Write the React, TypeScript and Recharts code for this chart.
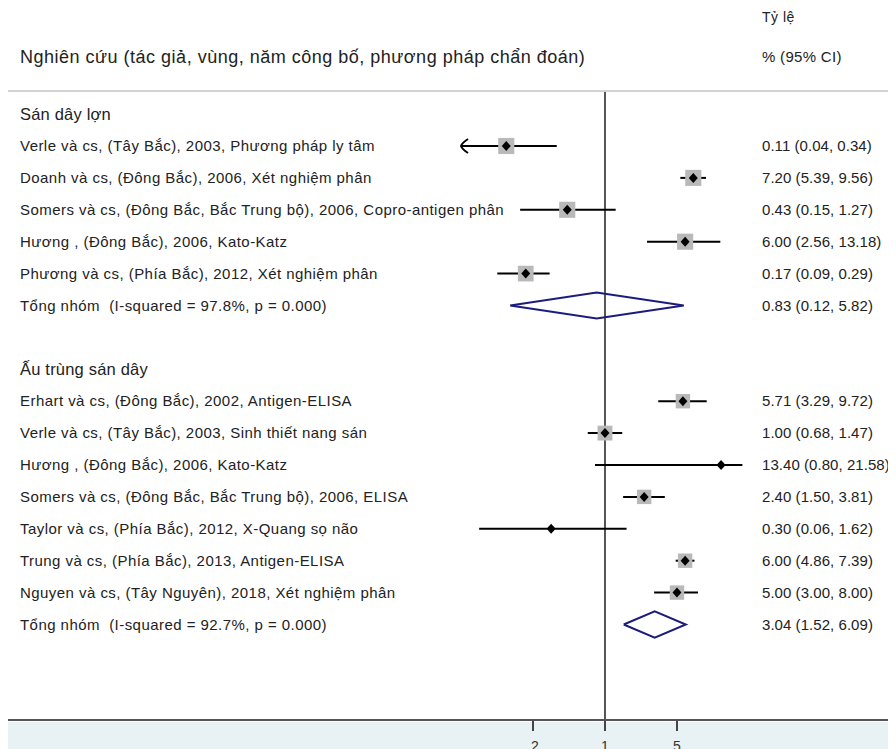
import React from "react";
import { ComposedChart, Scatter, XAxis, YAxis, ErrorBar, ReferenceLine } from "recharts";

// ---- Data ----
const pigGroupTitle = "Sán dây lợn";
const pigStudies = [
  "Verle và cs, (Tây Bắc), 2003, Phương pháp ly tâm",
  "Doanh và cs, (Đông Bắc), 2006, Xét nghiệm phân",
  "Somers và cs, (Đông Bắc, Bắc Trung bộ), 2006, Copro-antigen phân",
  "Hương , (Đông Bắc), 2006, Kato-Katz",
  "Phương và cs, (Phía Bắc), 2012, Xét nghiệm phân",
];
const pigEst = [0.11, 7.2, 0.43, 6.0, 0.17];
const pigLow = [0.04, 5.39, 0.15, 2.56, 0.09];
const pigHigh = [0.34, 9.56, 1.27, 13.18, 0.29];
const pigWeight = [20, 20, 20, 20, 19];
const pigPooledLabel = "Tổng nhóm  (I-squared = 97.8%, p = 0.000)";
const pigPooled = [0.83, 0.12, 5.82];

const cystGroupTitle = "Ấu trùng sán dây";
const cystStudies = [
  "Erhart và cs, (Đông Bắc), 2002, Antigen-ELISA",
  "Verle và cs, (Tây Bắc), 2003, Sinh thiết nang sán",
  "Hương , (Đông Bắc), 2006, Kato-Katz",
  "Somers và cs, (Đông Bắc, Bắc Trung bộ), 2006, ELISA",
  "Taylor và cs, (Phía Bắc), 2012, X-Quang sọ não",
  "Trung và cs, (Phía Bắc), 2013, Antigen-ELISA",
  "Nguyen và cs, (Tây Nguyên), 2018, Xét nghiệm phân",
];
const cystEst = [5.71, 1.0, 13.4, 2.4, 0.3, 6.0, 5.0];
const cystLow = [3.29, 0.68, 0.8, 1.5, 0.06, 4.86, 3.0];
const cystHigh = [9.72, 1.47, 21.58, 3.81, 1.62, 7.39, 8.0];
const cystWeight = [16, 17, 2, 16, 2, 16, 16];
const cystPooledLabel = "Tổng nhóm  (I-squared = 92.7%, p = 0.000)";
const cystPooled = [3.04, 1.52, 6.09];

const xTicks = [0.2, 1, 5];
const headerStudy = "Nghiên cứu (tác giả, vùng, năm công bố, phương pháp chẩn đoán)";
const headerRate1 = "Tỷ lệ";
const headerRate2 = "% (95% CI)";

// ---- Layout constants ----
const W = 888;
const H = 741;
const LEFT_AXIS_W = 420;
const RIGHT_AXIS_W = 136;
const FONT = "'Liberation Sans', Arial, sans-serif";
const DIAMOND_HALF = 0.41; // in row units
const BOX_K = 3.6;

const fmt = (v: number) => v.toFixed(2);
const ciText = (e: number, l: number, h: number) => `${fmt(e)} (${fmt(l)}, ${fmt(h)})`;

// ---- Build rows ----
type Row = { row: number; left: string; right: string; kind: "group" | "study" | "pooled" };
const rows: Row[] = [];
const studyPoints: any[] = [];
const arrowPoints: any[] = [];
const diamonds: any[][] = [];

let r = 0;
function addGroup(title: string, names: string[], est: number[], lo: number[], hi: number[], w: number[], pooledLabel: string, pooled: number[]) {
  rows.push({ row: r, left: title, right: "", kind: "group" });
  r++;
  names.forEach((n, i) => {
    rows.push({ row: r, left: n, right: ciText(est[i], lo[i], hi[i]), kind: "study" });
    studyPoints.push({ x: est[i], y: r, err: [est[i] - lo[i], hi[i] - est[i]], w: w[i] });
    if (lo[i] < 0.05) arrowPoints.push({ x: lo[i], y: r });
    r++;
  });
  rows.push({ row: r, left: pooledLabel, right: ciText(pooled[0], pooled[1], pooled[2]), kind: "pooled" });
  diamonds.push([
    { x: pooled[1], y: r },
    { x: pooled[0], y: r - DIAMOND_HALF },
    { x: pooled[2], y: r },
    { x: pooled[0], y: r + DIAMOND_HALF },
    { x: pooled[1], y: r },
  ]);
  r++;
}
addGroup(pigGroupTitle, pigStudies, pigEst, pigLow, pigHigh, pigWeight, pigPooledLabel, pigPooled);
r++; // blank row
addGroup(cystGroupTitle, cystStudies, cystEst, cystLow, cystHigh, cystWeight, cystPooledLabel, cystPooled);

const rowTicks = rows.map((d) => d.row);
const rowMap: Record<number, Row> = {};
rows.forEach((d) => (rowMap[d.row] = d));
const yDomain = [-0.724, 18.994];
const xDomain = [0.025, 32];

const LeftTick = (props: any) => {
  const { x, y, payload } = props;
  const d = rowMap[payload.value];
  if (!d) return <g />;
  const isGroup = d.kind === "group";
  return (
    <text
      x={x - LEFT_AXIS_W}
      y={y}
      dy="0.35em"
      textAnchor="start"
      fontSize={isGroup ? 16.5 : 15}
      letterSpacing={isGroup ? 0.2 : 0.45}
      fill="#222"
      fontFamily={FONT}
      style={{ whiteSpace: "pre" }}
    >
      {d.left}
    </text>
  );
};

const RightTick = (props: any) => {
  const { x, y, payload } = props;
  const d = rowMap[payload.value];
  if (!d || !d.right) return <g />;
  return (
    <text x={x + 2} y={y} dy="0.35em" textAnchor="start" fontSize={15} letterSpacing={0.05} fill="#222" fontFamily={FONT}>
      {d.right}
    </text>
  );
};

const BoxShape = (props: any) => {
  const { cx, cy, payload } = props;
  const s = BOX_K * Math.sqrt(payload.w);
  return <rect x={cx - s / 2} y={cy - s / 2} width={s} height={s} fill="#b9b9b9" />;
};

const PointShape = (props: any) => {
  const { cx, cy } = props;
  return <path d={`M${cx - 4.5},${cy} L${cx},${cy - 5} L${cx + 4.5},${cy} L${cx},${cy + 5} Z`} fill="#000" />;
};

const ArrowShape = (props: any) => {
  const { cx, cy } = props;
  return (
    <path
      d={`M${cx + 7},${cy - 7} Q${cx + 1},${cy - 3} ${cx},${cy} Q${cx + 1},${cy + 3} ${cx + 7},${cy + 7}`}
      stroke="#000"
      strokeWidth={2}
      fill="none"
    />
  );
};

const NoShape = () => <g />;

export default function App() {
  return (
    <div style={{ position: "relative", width: W, height: H, fontFamily: FONT, overflow: "hidden" }}>
      <div style={{ position: "absolute", left: 0, top: 714, width: W, height: H - 714, background: "#e8f1f4" }} />
      <div style={{ position: "absolute", left: 0, top: 0 }}>
        <ComposedChart width={W} height={H} margin={{ top: 83, right: 0, bottom: 0, left: 12 }}>
          <XAxis
            xAxisId="x"
            dataKey="x"
            type="number"
            scale="log"
            domain={xDomain}
            allowDataOverflow
            ticks={xTicks}
            interval={0}
            height={29}
            axisLine={false}
            tickSize={11}
            tickMargin={10}
            tickLine={{ stroke: "#444", strokeWidth: 2 }}
            tick={{ fontSize: 14, fill: "#333", fontFamily: FONT }}
            tickFormatter={(v: number) => (v < 1 ? String(v).replace(/^0/, "") : String(v))}
          />
          <YAxis
            yAxisId="left"
            dataKey="y"
            type="number"
            orientation="left"
            domain={yDomain}
            allowDataOverflow
            reversed
            ticks={rowTicks}
            interval={0}
            width={LEFT_AXIS_W}
            axisLine={false}
            tickLine={false}
            tickSize={0}
            tickMargin={0}
            tick={<LeftTick />}
          />
          <YAxis
            yAxisId="right"
            dataKey="y"
            type="number"
            orientation="right"
            domain={yDomain}
            allowDataOverflow
            reversed
            ticks={rowTicks}
            interval={0}
            width={RIGHT_AXIS_W}
            axisLine={false}
            tickLine={false}
            tickSize={0}
            tickMargin={0}
            tick={<RightTick />}
          />
          <ReferenceLine xAxisId="x" yAxisId="left" x={1} stroke="#555" strokeWidth={2} />
          <Scatter xAxisId="x" yAxisId="left" data={studyPoints} shape={<BoxShape />} isAnimationActive={false} />
          <Scatter xAxisId="x" yAxisId="left" data={studyPoints} shape={<PointShape />} isAnimationActive={false}>
            <ErrorBar dataKey="err" direction="x" width={0} stroke="#000" strokeWidth={2} isAnimationActive={false} />
          </Scatter>
          <Scatter xAxisId="x" yAxisId="left" data={arrowPoints} shape={<ArrowShape />} isAnimationActive={false} />
          {diamonds.map((d, i) => (
            <Scatter
              key={i}
              xAxisId="x"
              yAxisId="left"
              data={d}
              line={{ stroke: "#1c1c7c", strokeWidth: 2 }}
              lineType="joint"
              shape={<NoShape />}
              isAnimationActive={false}
            />
          ))}
        </ComposedChart>
      </div>
      <div style={{ position: "absolute", left: 0, top: 82, width: W, height: 2, background: "#d2d2d2" }} />
      <div style={{ position: "absolute", left: 0, top: 711, width: W, height: 2, background: "#555" }} />
      <div style={{ position: "absolute", left: 12, top: 39, fontSize: 18, letterSpacing: 0.5, color: "#222", whiteSpace: "nowrap", lineHeight: "20px" }}>
        {headerStudy}
      </div>
      <div style={{ position: "absolute", left: 754, top: 1, fontSize: 14, letterSpacing: 0.5, color: "#222", whiteSpace: "nowrap", lineHeight: "16px" }}>
        {headerRate1}
      </div>
      <div style={{ position: "absolute", left: 754, top: 40, fontSize: 15, letterSpacing: 0.3, color: "#222", whiteSpace: "nowrap", lineHeight: "17px" }}>
        {headerRate2}
      </div>
    </div>
  );
}
